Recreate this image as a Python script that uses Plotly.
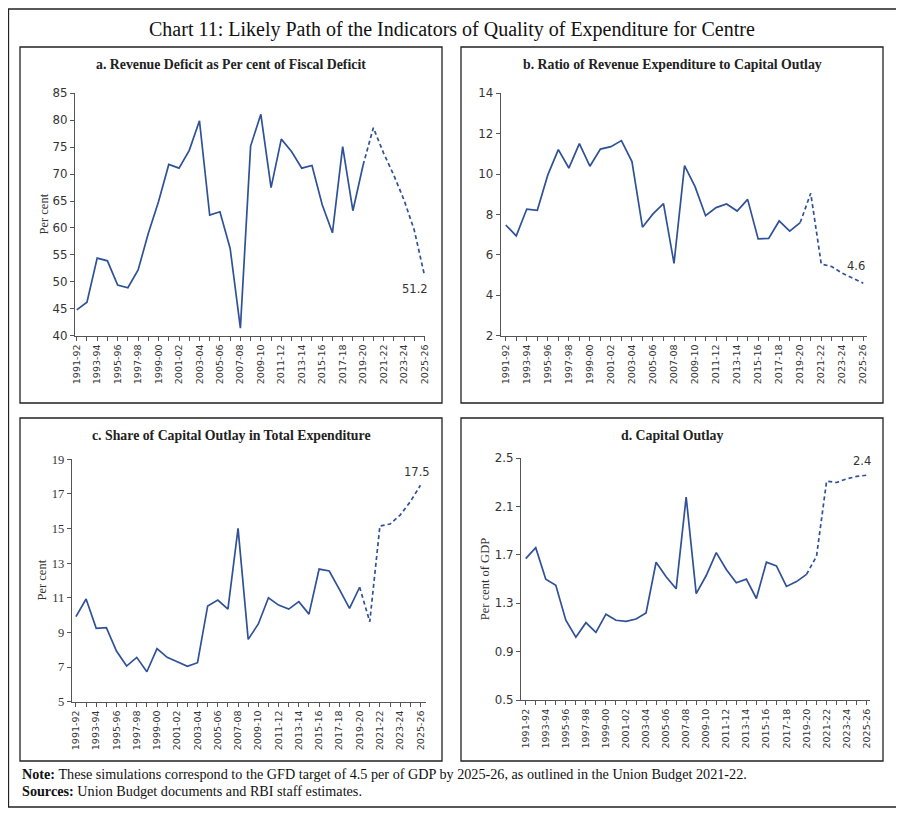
import plotly.graph_objects as go

years = [f"{y}-{str(y+1)[-2:]}" for y in range(1991, 2026)]

rev_def_fd = [44.8, 46.2, 54.4, 53.9, 49.4, 48.9, 52.2, 59.0, 64.9, 71.8,
              71.1, 74.4, 79.9, 62.4, 63.0, 56.2, 41.4, 75.2, 81.1, 67.5,
              76.5, 74.2, 71.1, 71.6, 64.3, 59.1, 75.1, 63.2, 71.7, 78.6,
              73.9, 69.8, 65.2, 59.6, 51.2]
rev_to_cap = [7.48, 6.94, 8.27, 8.21, 9.96, 11.21, 10.30, 11.51, 10.39, 11.24,
              11.36, 11.66, 10.62, 7.37, 8.03, 8.54, 5.58, 10.42, 9.38, 7.94,
              8.34, 8.52, 8.17, 8.75, 6.79, 6.82, 7.68, 7.18, 7.60, 9.05,
              5.55, 5.42, 5.09, 4.83, 4.6]
cap_share = [9.91, 10.93, 9.24, 9.28, 7.93, 7.06, 7.56, 6.73, 8.06, 7.56,
             7.31, 7.04, 7.25, 10.53, 10.87, 10.35, 15.01, 8.60, 9.49, 11.0,
             10.58, 10.35, 10.78, 10.06, 12.66, 12.55, 11.49, 10.39, 11.61, 9.62,
             15.15, 15.26, 15.78, 16.55, 17.5]
cap_outlay = [1.67, 1.76, 1.50, 1.45, 1.16, 1.02, 1.14, 1.06, 1.21, 1.16,
              1.15, 1.17, 1.22, 1.64, 1.52, 1.42, 2.18, 1.38, 1.53, 1.72,
              1.58, 1.47, 1.50, 1.34, 1.64, 1.61, 1.44, 1.48, 1.54, 1.69,
              2.31, 2.30, 2.33, 2.35, 2.36]
end_labels = ["51.2", "4.6", "17.5", "2.4"]
panel_titles = ["a. Revenue Deficit as Per cent of Fiscal Deficit",
                "b. Ratio of Revenue Expenditure to Capital Outlay",
                "c. Share of Capital Outlay in Total Expenditure",
                "d. Capital Outlay"]
y_titles = ["Per cent", "", "Per cent", "Per cent of GDP"]
last_actual = 28  # index of 2019-20

# page body has an 8px margin; lay out in screen pixels and convert
OFF = 8
W, H = 896, 809
def px(x): return (x - OFF) / W
def py(y): return 1 - (y - OFF) / H

LINE = "#2f5197"
SANS = "DejaVu Sans"
SERIF = "Liberation Serif"

panels = [
    dict(data=rev_def_fd, xd=(75, 425), yd=(93.3, 335.7), yr=(40, 85), dt=5,
         xr=(-0.17, 34.05), yfont=SANS, yfs=11.8, lab=(-9, -14), tx=231, ty=65, ytx=43),
    dict(data=rev_to_cap, xd=(500.7, 867), yd=(93.3, 335.7), yr=(2, 14), dt=2,
         xr=(-0.48, 34.35), yfont=SANS, yfs=11.8, lab=(-7, 17), tx=672, ty=65, ytx=None),
    dict(data=cap_share, xd=(71.7, 426), yd=(459.3, 701.7), yr=(5, 19), dt=2,
         xr=(-0.42, 34.55), yfont=SERIF, yfs=12.5, lab=(-3, 13), tx=231, ty=435, ytx=41),
    dict(data=cap_outlay, xd=(521, 870), yd=(458.3, 700), yr=(0.5, 2.5), dt=0.4,
         xr=(-0.47, 34.33), yfont=SANS, yfs=11.8, lab=(-5, 14), tx=672, ty=435, ytx=485),
]

fig = go.Figure()
layout = dict(width=W, height=H, autosize=False,
              margin=dict(l=0, r=0, t=0, b=0, pad=0, autoexpand=False),
              paper_bgcolor="white", plot_bgcolor="white", showlegend=False)
annotations = []
shapes = []

ticktext = [y if i % 2 == 0 else "" for i, y in enumerate(years)]

for i, p in enumerate(panels):
    n = "" if i == 0 else str(i + 1)
    xa, ya = "x" + n, "y" + n
    fig.add_trace(go.Scatter(x=years[:last_actual + 1], y=p["data"][:last_actual + 1],
                             mode="lines", line=dict(color=LINE, width=1.7),
                             xaxis=xa, yaxis=ya))
    fig.add_trace(go.Scatter(x=years[last_actual:], y=p["data"][last_actual:],
                             mode="lines", line=dict(color=LINE, width=1.7, dash="4px,3px"),
                             xaxis=xa, yaxis=ya))
    layout["xaxis" + n] = dict(
        domain=[px(p["xd"][0]), px(p["xd"][1])], anchor=ya, type="category",
        categoryorder="array", categoryarray=years, range=list(p["xr"]),
        tickmode="array", tickvals=years, ticktext=ticktext, tickangle=-90,
        ticks="outside", ticklen=4, tickcolor="#555", showline=True,
        linecolor="#555", linewidth=1, showgrid=False, zeroline=False,
        automargin=False,
        tickfont=dict(family=SANS, size=9.5, color="#333"))
    layout["yaxis" + n] = dict(
        domain=[py(p["yd"][1]), py(p["yd"][0])], anchor=xa,
        range=list(p["yr"]), dtick=p["dt"], tick0=p["yr"][0],
        ticks="outside", ticklen=4, tickcolor="#555", showline=True,
        linecolor="#555", linewidth=1, showgrid=False, zeroline=False,
        automargin=False,
        tickformat=".1f" if i == 3 else "d",
        tickfont=dict(family=p["yfont"], size=p["yfs"], color="#333"))
    annotations.append(dict(xref=xa, yref=ya, x=years[-1], y=p["data"][-1],
                            text=end_labels[i], showarrow=False,
                            xshift=p["lab"][0], yshift=p["lab"][1],
                            font=dict(family=SANS, size=11.5, color="#333")))
    annotations.append(dict(xref="paper", yref="paper", x=px(p["tx"]), y=py(p["ty"]),
                            text="<b>" + panel_titles[i] + "</b>", showarrow=False,
                            xanchor="center", yanchor="middle",
                            font=dict(family=SERIF, size=13.8, color="#222")))
    if y_titles[i]:
        annotations.append(dict(xref="paper", yref="paper", x=px(p["ytx"]),
                                y=py((p["yd"][0] + p["yd"][1]) / 2),
                                text=y_titles[i], showarrow=False, textangle=-90,
                                xanchor="center", yanchor="middle",
                                font=dict(family=SERIF, size=12.5, color="#333")))

annotations.append(dict(xref="paper", yref="paper", x=px(452), y=py(30),
                        text="Chart 11: Likely Path of the Indicators of Quality of Expenditure for Centre",
                        showarrow=False, xanchor="center", yanchor="middle",
                        font=dict(family=SERIF, size=20, color="#111")))
annotations.append(dict(xref="paper", yref="paper", x=px(20), y=py(774),
                        text="<b>Note:</b> These simulations correspond to the GFD target of 4.5 per of GDP by 2025-26, as outlined in the Union Budget 2021-22.",
                        showarrow=False, xanchor="left", yanchor="middle",
                        font=dict(family=SERIF, size=14.2, color="#111")))
annotations.append(dict(xref="paper", yref="paper", x=px(20), y=py(791),
                        text="<b>Sources:</b> Union Budget documents and RBI staff estimates.",
                        showarrow=False, xanchor="left", yanchor="middle",
                        font=dict(family=SERIF, size=14.2, color="#111")))

def box(x0, y0, x1, y1, w=1.3, c="#222"):
    shapes.append(dict(type="rect", xref="paper", yref="paper",
                       x0=px(x0), x1=px(x1), y0=py(y1), y1=py(y0),
                       line=dict(color=c, width=w), fillcolor="rgba(0,0,0,0)"))

box(8.5, 9, 897, 807, 1.3)
box(20, 47, 442, 403)
box(461, 47, 883, 403)
box(20, 418, 442, 761)
box(461, 418, 883, 761)

layout["annotations"] = annotations
layout["shapes"] = shapes
fig.update_layout(**layout)
fig.write_html("out.html")
